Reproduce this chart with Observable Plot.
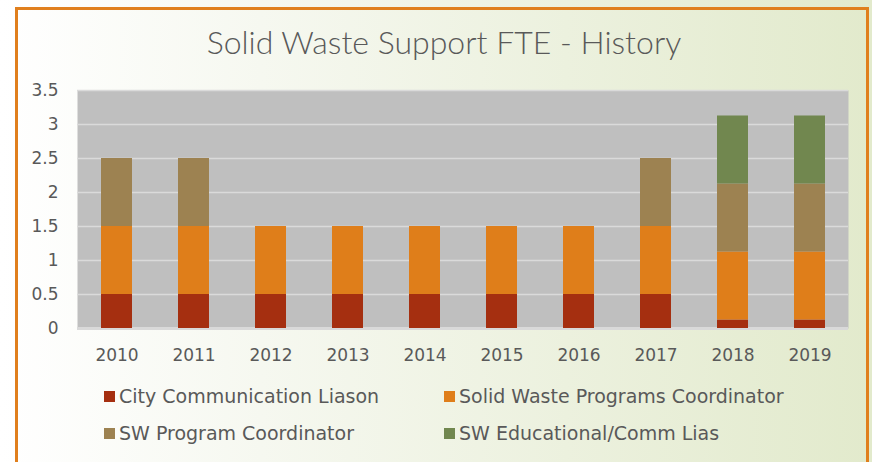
<!DOCTYPE html>
<html>
<head>
<meta charset="utf-8">
<script src="https://cdn.jsdelivr.net/npm/d3@7"></script>
<script src="https://cdn.jsdelivr.net/npm/@observablehq/plot@0.6"></script>
<style>
  html, body { margin: 0; padding: 0; }
  body { width: 872px; height: 462px; overflow: hidden; }
  #wrap { position: relative; width: 872px; height: 462px;
    background: linear-gradient(to right, #ffffff 0%, #f6f8f0 30%, #e2eacc 100%);
    font-family: "DejaVu Sans", sans-serif; color: #595959; }
  #frame { position: absolute; left: 15px; top: 7px; width: 848px; height: 452px;
    border: 3px solid #e07f1d; box-sizing: content-box; }
  #title { position: absolute; left: 0; top: 22px; width: 888px; text-align: center;
    font-family: "Lato", sans-serif; font-size: 32px; font-weight: 300; color: #595959; }
  #chart { position: absolute; left: 0; top: 70px; }
  .leg { position: absolute; font-size: 19px; color: #595959; white-space: nowrap; }
  .leg span.sw { display: inline-block; width: 11px; height: 11px; margin-right: 4px; vertical-align: 1px; }
</style>
</head>
<body>
<div id="wrap">
  <div id="frame"></div>
  <div id="title">Solid Waste Support FTE - History</div>
  <div id="chart"></div>
  <div id="legend"></div>
</div>
<script>
const years = ["2010","2011","2012","2013","2014","2015","2016","2017","2018","2019"];
const seriesNames = ["City Communication Liason","Solid Waste Programs Coordinator","SW Program Coordinator","SW Educational/Comm Lias"];
const cityCommunicationLiason = [0.5,0.5,0.5,0.5,0.5,0.5,0.5,0.5,0.125,0.125];
const solidWasteProgramsCoordinator = [1,1,1,1,1,1,1,1,1,1];
const swProgramCoordinator = [1,1,0,0,0,0,0,1,1,1];
const swEducationalCommLias = [0,0,0,0,0,0,0,0,1,1];
const yTicks = [0,0.5,1,1.5,2,2.5,3,3.5];
const colors = ["#a52f10","#df7e1a","#9d8251","#71874f"];

const seriesValues = [cityCommunicationLiason, solidWasteProgramsCoordinator, swProgramCoordinator, swEducationalCommLias];
const data = [];
seriesNames.forEach((s, i) => years.forEach((y, j) => data.push({year: y, series: s, value: seriesValues[i][j]})));

const chart = Plot.plot({
  width: 872,
  height: 300,
  marginLeft: 77,
  marginRight: 24,
  marginTop: 20,
  marginBottom: 42,
  style: {background: "transparent", fontFamily: "'DejaVu Sans', sans-serif", fontSize: "17px", color: "#595959"},
  x: {domain: years, paddingInner: 0.6, paddingOuter: 0.3, label: null, axis: null},
  y: {domain: [0, 3.5], label: null, axis: null},
  color: {domain: seriesNames, range: colors},
  marks: [
    Plot.frame({fill: "#bfbfbf", stroke: null}),
    Plot.gridY(yTicks, {stroke: "#dadada", strokeOpacity: 1, strokeWidth: 1.5}),
    Plot.ruleY([0], {stroke: "#d9d9d9", strokeWidth: 3}),
    Plot.barY(data, {x: "year", y: "value", fill: "series", order: seriesNames}),
    Plot.axisY(yTicks, {tickSize: 0, tickPadding: 19, fill: "#595959", fontSize: 17, tickFormat: d => String(d)}),
    Plot.axisX(years, {tickSize: 0, tickPadding: 20, fill: "#595959", fontSize: 17})
  ]
});
document.getElementById("chart").appendChild(chart);

const legendPos = [[104, 385], [444, 385], [104, 422], [444, 422]];
const legend = document.getElementById("legend");
seriesNames.forEach((s, i) => {
  const d = document.createElement("div");
  d.className = "leg";
  d.style.left = legendPos[i][0] + "px";
  d.style.top = legendPos[i][1] + "px";
  d.innerHTML = `<span class="sw" style="background:${colors[i]}"></span>${s}`;
  legend.appendChild(d);
});
</script>
</body>
</html>
